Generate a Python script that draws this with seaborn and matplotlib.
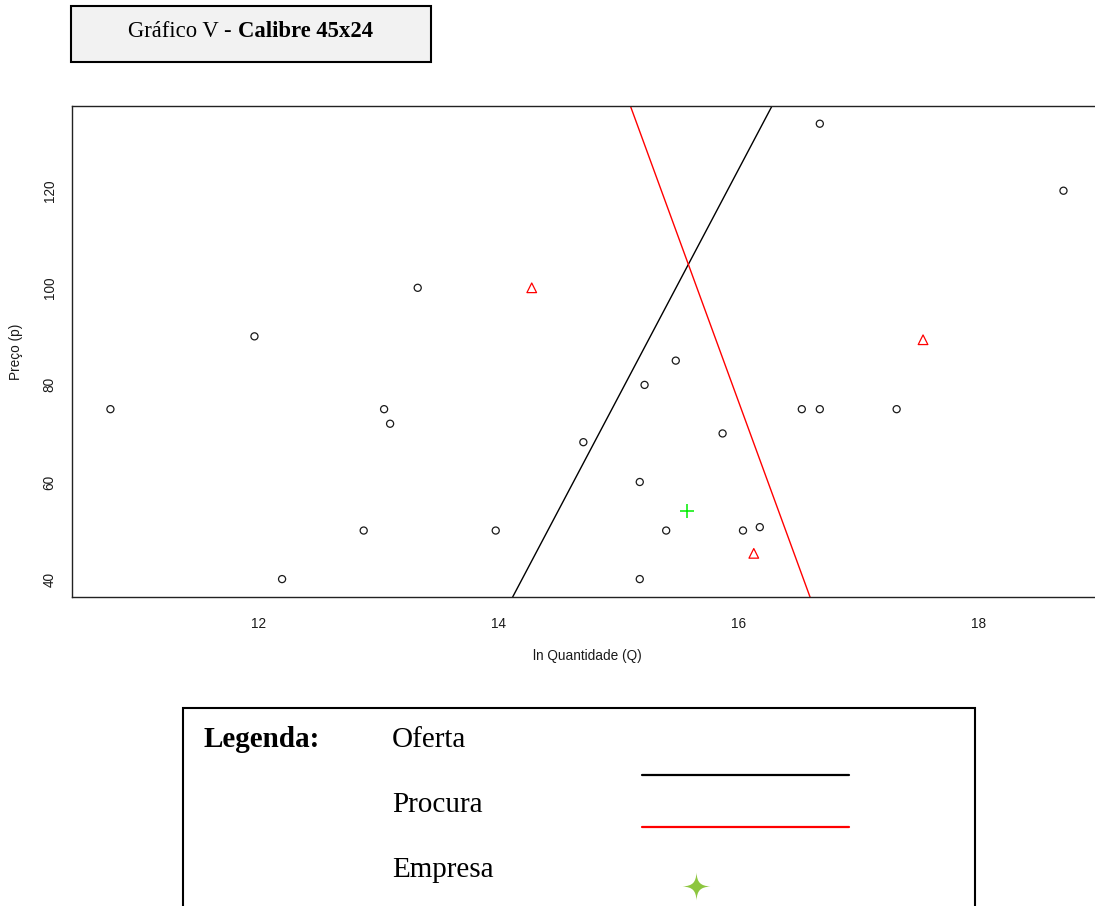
import numpy as np
import pandas as pd
import seaborn as sns
import matplotlib.pyplot as plt
from matplotlib.patches import Rectangle
from matplotlib.lines import Line2D
from matplotlib.path import Path

# Mercado: ln quantidade vs preço
q_mercado = [10.77, 11.97, 12.20, 12.88, 13.05, 13.10, 13.33, 13.98, 14.71,
             15.18, 15.22, 15.48, 15.18, 15.40, 15.87, 16.04, 16.18, 16.53,
             16.68, 17.32, 16.68, 18.71]
p_mercado = [75, 90, 40, 50, 75, 72, 100, 50, 68.2,
             60, 80, 85, 40, 50, 70, 50, 50.7, 75,
             75, 75, 133.8, 120]

# observações em destaque (triângulos)
q_destaque = [14.28, 16.13, 17.54]
p_destaque = [100, 45.3, 89.3]

# empresa
q_empresa = [15.57]
p_empresa = [54.0]

# curvas estimadas p = a + b*q
oferta = (-624.7, 46.81)
procura = (1158.2, -67.59)

xticks = [12, 14, 16, 18]
yticks = [40, 60, 80, 100, 120]

titulo_regular = "Gráfico V - "
titulo_negrito = "Calibre 45x24"
legenda_titulo = "Legenda:"
legenda_itens = ["Oferta", "Procura", "Empresa"]

sns.set_style("white")
plt.rcParams["font.family"] = ["Liberation Sans", "DejaVu Sans"]
plt.rcParams["text.color"] = "black"

W, H = 1095, 906
fig = plt.figure(figsize=(W / 100, H / 100), dpi=100)


def fx(px):
    return px / W


def fy(py):
    return 1 - py / H


# plot area (right side runs past the figure edge)
left, right, top, bottom = 72.3, 1101.6, 105.5, 597.3
ax = fig.add_axes([fx(left), fy(bottom), (right - left) / W, (bottom - top) / H])

all_q = np.array(q_mercado + q_destaque + q_empresa)
all_p = np.array(p_mercado + p_destaque + p_empresa)
qpad = 0.04 * (all_q.max() - all_q.min())
ppad = 0.04 * (all_p.max() - all_p.min())
ax.set_xlim(all_q.min() - qpad, all_q.max() + qpad)
ax.set_ylim(all_p.min() - ppad, all_p.max() + ppad)

# supply / demand lines
qgrid = np.array(ax.get_xlim())
sns.lineplot(x=qgrid, y=oferta[0] + oferta[1] * qgrid, ax=ax,
             color="black", linewidth=1.0, estimator=None)
sns.lineplot(x=qgrid, y=procura[0] + procura[1] * qgrid, ax=ax,
             color="#ff0000", linewidth=1.0, estimator=None)

sns.scatterplot(x=q_mercado, y=p_mercado, ax=ax, marker="o", s=26,
                facecolor="none", edgecolor="#1a1a1a", linewidth=0.9)
sns.scatterplot(x=q_destaque, y=p_destaque, ax=ax, marker="^", s=48,
                facecolor="none", edgecolor="#ff0000", linewidth=0.9)
sns.scatterplot(x=q_empresa, y=p_empresa, ax=ax, marker="+", s=90,
                color="#00ee00", linewidth=1.1)

ax.set_xlim(qgrid)
ax.set_ylim(all_p.min() - ppad, all_p.max() + ppad)

ax.set_xticks(xticks)
ax.set_yticks(yticks)
ax.tick_params(axis="both", direction="out", length=6.2, width=1.0,
               color="#666666", labelsize=9.8, labelcolor="#1a1a1a")
ax.tick_params(axis="x", pad=8)
ax.tick_params(axis="y", pad=5, labelrotation=90)
for lbl in ax.get_yticklabels():
    lbl.set_va("center")

ax.set_xlabel("ln Quantidade (Q)", fontsize=9.8, labelpad=13, color="#1a1a1a")
ax.set_ylabel("Preço (p)", fontsize=9.8, labelpad=14, color="#1a1a1a")

for sp in ax.spines.values():
    sp.set_visible(True)
    sp.set_color("#222222")
    sp.set_linewidth(1.0)

# title box
fig.add_artist(Rectangle((fx(71), fy(62)), (430.7 - 71) / W, (62 - 6) / H,
                         transform=fig.transFigure, facecolor="#f2f2f2",
                         edgecolor="black", linewidth=1.5))
serif = ["Liberation Serif", "DejaVu Serif"]
fig.text(fx(128.3), fy(37.3), titulo_regular, family=serif, fontsize=16.3,
         va="baseline", ha="left", color="black")
fig.text(fx(238.5), fy(37.3), titulo_negrito, family=serif, fontsize=16.3,
         weight="bold", va="baseline", ha="left", color="black")

# legend box
fig.add_artist(Rectangle((fx(182.5), fy(915)), (975 - 182.5) / W, (915 - 708) / H,
                         transform=fig.transFigure, facecolor="none",
                         edgecolor="black", linewidth=1.5, clip_on=False))
fig.text(fx(203), fy(747), legenda_titulo, family=serif, fontsize=21,
         weight="bold", va="baseline", ha="left", color="black")
for nome, yb in zip(legenda_itens, [747, 812, 877]):
    fig.text(fx(392), fy(yb), nome, family=serif, fontsize=21,
             va="baseline", ha="left", color="black")

fig.add_artist(Line2D([fx(642), fx(849)], [fy(775), fy(775)],
                      transform=fig.transFigure, color="black", linewidth=1.6))
fig.add_artist(Line2D([fx(642), fx(849)], [fy(827), fy(827)],
                      transform=fig.transFigure, color="#ff0000", linewidth=1.6))

# four-point star marker
pts = [(0, 1), (1, 0), (0, -1), (-1, 0)]
ctrl = [((0.05, 0.28), (0.28, 0.05)), ((0.28, -0.05), (0.05, -0.28)),
        ((-0.05, -0.28), (-0.28, -0.05)), ((-0.28, 0.05), (-0.05, 0.28))]
verts, codes = [pts[0]], [Path.MOVETO]
for i in range(4):
    c1, c2 = ctrl[i]
    verts += [c1, c2, pts[(i + 1) % 4]]
    codes += [Path.CURVE4] * 3
verts.append(pts[0]); codes.append(Path.CLOSEPOLY)
estrela = Path(verts, codes)
fig.add_artist(Line2D([fx(696)], [fy(886)], transform=fig.transFigure,
                      marker=estrela, markersize=20, color="#8dc63f",
                      markeredgewidth=0, linestyle="none"))

fig.savefig("out.png", dpi=100)
